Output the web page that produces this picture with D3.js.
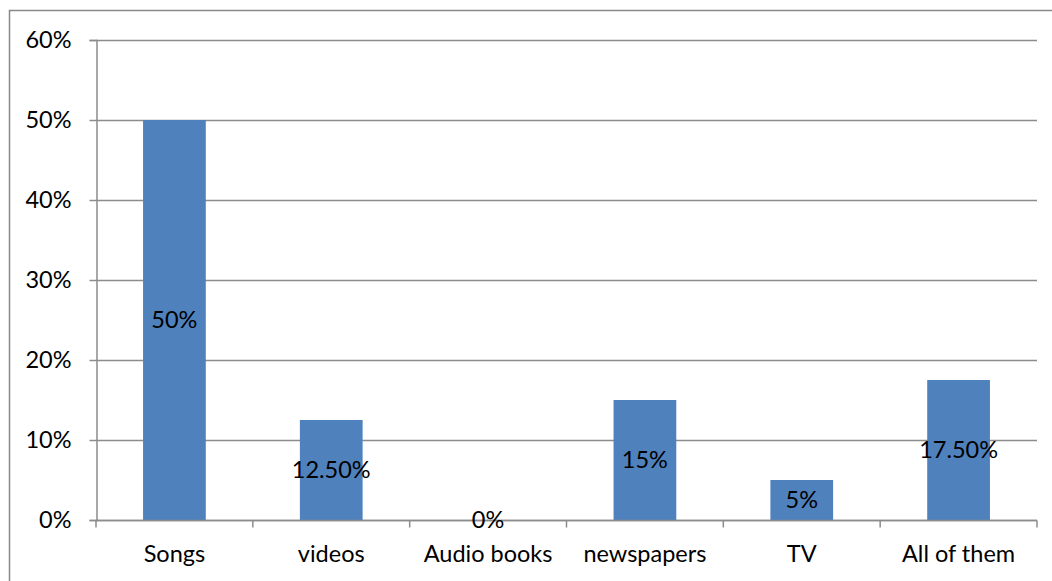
<!DOCTYPE html>
<html>
<head>
<meta charset="utf-8">
<script src="https://cdn.jsdelivr.net/npm/d3@7"></script>
<style>
  html, body { margin: 0; padding: 0; background: #fff; }
  svg { display: block; }
  text { font-family: Lato, "Open Sans", "Liberation Sans", sans-serif; fill: #000; }
</style>
</head>
<body>
<svg id="chart" width="1052" height="581"></svg>
<script>
// Share of respondents by type of media
const categories = ["Songs", "videos", "Audio books", "newspapers", "TV", "All of them"];
const shares = [0.50, 0.125, 0.0, 0.15, 0.05, 0.175];
const valueLabels = ["50%", "12.50%", "0%", "15%", "5%", "17.50%"];
const yTicks = [0, 0.1, 0.2, 0.3, 0.4, 0.5, 0.6];

const FONT = "Lato, 'Open Sans', sans-serif";
const FONT_SIZE = "23.5px";

const svg = d3.select("#chart");
const W = 1052, H = 581;
const plot = { left: 96, right: 1037, top: 40, bottom: 520 };

// outer chart frame
svg.append("rect")
  .attr("x", 9.5).attr("y", 10.5)
  .attr("width", W).attr("height", H)
  .attr("fill", "none").attr("stroke", "#888").attr("stroke-width", 1.5);

const x = d3.scaleBand()
  .domain(categories)
  .range([plot.left, plot.right])
  .paddingInner(0.6)
  .paddingOuter(0.3);

const y = d3.scaleLinear()
  .domain([0, 0.6])
  .range([plot.bottom, plot.top]);

// horizontal gridlines
svg.append("g")
  .selectAll("line")
  .data(yTicks)
  .join("line")
  .attr("x1", plot.left).attr("x2", plot.right)
  .attr("y1", d => y(d) + 0.5).attr("y2", d => y(d) + 0.5)
  .attr("stroke", "#8c8c8c").attr("stroke-width", 1.5);

// bars
svg.append("g")
  .selectAll("rect")
  .data(categories)
  .join("rect")
  .attr("x", d => x(d))
  .attr("width", x.bandwidth())
  .attr("y", (d, i) => y(shares[i]))
  .attr("height", (d, i) => y(0) - y(shares[i]))
  .attr("fill", "#4f81bd");

// y axis
const yAxis = svg.append("g")
  .attr("transform", `translate(${plot.left + 0.5},0)`)
  .call(d3.axisLeft(y).tickValues(yTicks).tickFormat(d3.format(".0%")).tickSize(7).tickPadding(18));
yAxis.select(".domain").attr("stroke", "#8c8c8c").attr("stroke-width", 1.5);
yAxis.selectAll(".tick line").attr("stroke", "#8c8c8c").attr("stroke-width", 1.5);
yAxis.selectAll(".tick text").style("font-size", FONT_SIZE).style("fill", "#000")
  .style("font-family", FONT);

// x axis: ticks at category boundaries
const xAxisG = svg.append("g").attr("transform", `translate(0,${plot.bottom + 0.5})`);
xAxisG.append("line")
  .attr("x1", plot.left).attr("x2", plot.right)
  .attr("stroke", "#8c8c8c").attr("stroke-width", 1.5);
const step = x.step();
const boundaries = d3.range(categories.length + 1).map(i => plot.left + i * step);
xAxisG.selectAll("line.tick")
  .data(boundaries)
  .join("line")
  .attr("class", "tick")
  .attr("x1", d => d).attr("x2", d => d)
  .attr("y1", 0).attr("y2", 7)
  .attr("stroke", "#8c8c8c").attr("stroke-width", 1.5);
xAxisG.selectAll("text")
  .data(categories)
  .join("text")
  .attr("x", d => x(d) + x.bandwidth() / 2)
  .attr("y", 41)
  .attr("text-anchor", "middle")
  .style("font-size", FONT_SIZE)
  .text(d => d);

// value labels centred in each bar
svg.append("g")
  .selectAll("text")
  .data(categories)
  .join("text")
  .attr("x", d => x(d) + x.bandwidth() / 2)
  .attr("y", (d, i) => (y(shares[i]) + y(0)) / 2)
  .attr("dy", "0.35em")
  .attr("text-anchor", "middle")
  .style("font-size", FONT_SIZE)
  .text((d, i) => valueLabels[i]);
</script>
</body>
</html>
